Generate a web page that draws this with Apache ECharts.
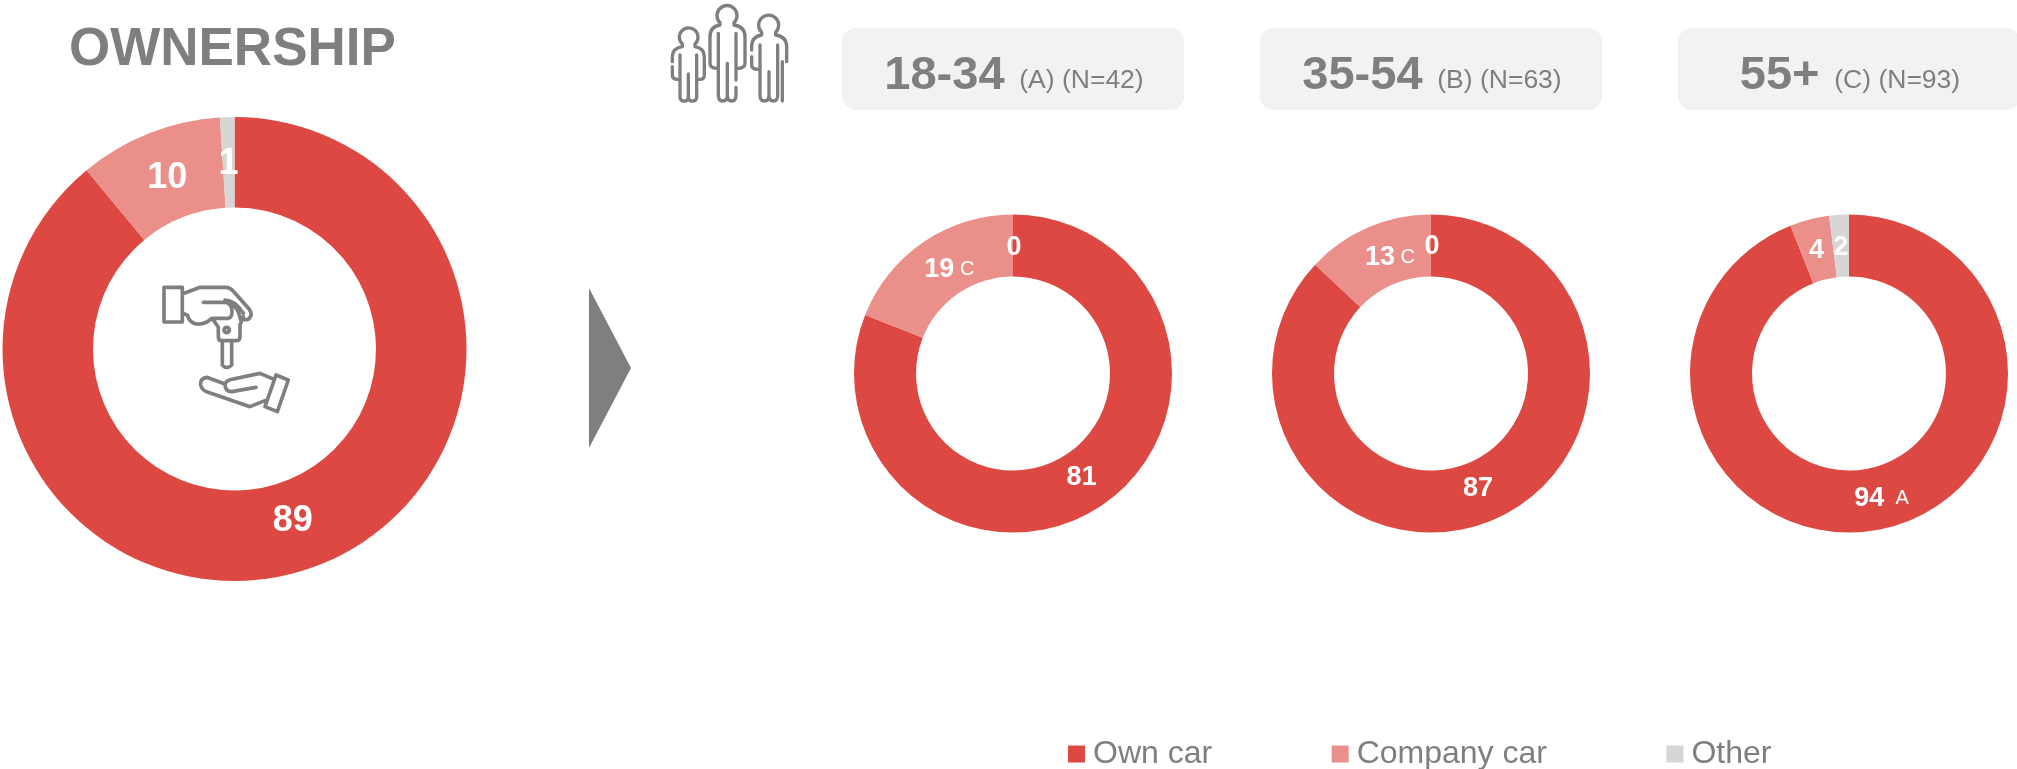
<!DOCTYPE html>
<html>
<head>
<meta charset="utf-8">
<style>
  html, body { margin: 0; padding: 0; background: #fff; }
  #chart { width: 2017px; height: 769px; }
</style>
<script src="https://cdn.jsdelivr.net/npm/echarts@6/dist/echarts.min.js"></script>
</head>
<body>
<div id="chart"></div>
<script>
    var categories = ['Own car', 'Company car', 'Other'];

    var totalValues = [89, 10, 1];
    var youngValues = [81, 19, 0];
    var middleValues = [87, 13, 0];
    var olderValues = [94, 4, 2];

    // significance letters printed after a value
    var youngLetters = ['', 'C', ''];
    var middleLetters = ['', 'C', ''];
    var olderLetters = ['A', '', ''];
    var noLetters = ['', '', ''];

    var groupNames = ['18-34', '35-54', '55+'];
    var groupNotes = ['(A) (N=42)', '(B) (N=63)', '(C) (N=93)'];

    var colors = ['#dd4942', '#eb8f8b', '#d6d6d6'];
    var grey = '#7f7f7f';
    var font = '"Liberation Sans", Arial, sans-serif';

    var keyIconPath =
        'M42,52 L97,52 L97,156 L42,156 Z' +
        'M97,72 L150,52 L228,52 Q240,52 250,64 L298,118 Q310,135 295,148 L272,150' +
        'M97,130 L112,135 Q120,165 150,162 Q170,160 185,145 L235,145 Q250,140 245,115 Q240,97 225,97 L160,97' +
        'M225,90 Q255,90 280,130 M245,100 Q265,115 272,150' +
        'M190,150 L205,172 L205,200 Q205,212 215,212 L258,212 Q270,212 270,200 L270,165 L280,140' +
        'M222,180 A8,8 0 1 1 238,180 A8,8 0 1 1 222,180' +
        'M217,212 L217,285 Q230,300 245,285 L245,212' +
        'M170,322 Q150,325 152,345 Q155,360 170,365 L300,410 L345,392' +
        'M170,322 L225,342 Q230,330 250,327 L330,310 L372,328' +
        'M225,342 Q225,365 245,365 L318,352' +
        'M378,315 L415,330 L382,425 L345,410 Z';
    var peopleIconPath =
        'M52,132 A28,28 0 1 1 90,132 L90,140 Q118,145 118,170 L118,225 Q118,238 105,238 L100,238' +
        'M52,132 L52,140 Q22,145 22,170 L22,185 M22,200 L22,225 Q22,238 38,238 L45,238' +
        'M45,165 L45,290 Q45,303 58,303 Q70,303 70,290 L70,222 M70,290 Q70,303 82,303 Q95,303 95,290 L95,165' +
        'M165,68 A30,30 0 1 1 207,68 L207,75 Q240,80 240,110 L240,190 Q240,205 220,205' +
        'M165,68 L165,75 Q135,80 135,110 L135,190 Q135,205 155,205' +
        'M160,100 L160,285 Q160,303 173,303 Q187,303 187,285 L187,190 M187,285 Q187,303 200,303 Q213,303 213,285 L213,262 M213,240 L213,100' +
        'M290,97 A30,30 0 1 1 332,97 L332,105 Q365,110 365,140 L365,185' +
        'M290,97 L290,105 Q260,110 260,140 L260,150 M260,170 L260,195 Q260,208 280,208' +
        'M285,135 L285,285 Q285,303 298,303 Q312,303 312,285 L312,215 M312,285 Q312,303 325,303 Q338,303 338,285 L338,135' +
        'M352,185 L352,303';

    echarts.graphic.registerShape('keyIcon', echarts.graphic.extendPath(keyIconPath, {}));
    echarts.graphic.registerShape('peopleIcon', echarts.graphic.extendPath(peopleIconPath, {}));

    var myChart = echarts.init(document.getElementById('chart'));

    function donut(values, letters, center, radius, sizes, nudges, letterGap) {
        return {
            type: 'pie',
            center: center,
            radius: radius,
            startAngle: 90,
            silent: true,
            avoidLabelOverlap: false,
            stillShowZeroSum: true,
            labelLine: { show: false },
            data: categories.map(function (name, i) {
                return {
                    name: name,
                    value: values[i],
                    itemStyle: { color: colors[i] },
                    label: {
                        show: true,
                        position: 'inside',
                        offset: nudges[i],
                        formatter: letters[i]
                            ? '{v|' + values[i] + '}{s|' + letterGap + letters[i] + '}'
                            : '{v|' + values[i] + '}',
                        rich: {
                            v: { color: '#fff', fontFamily: font, fontWeight: 'bold', fontSize: sizes[0] },
                            s: { color: '#fff', fontFamily: font, fontSize: sizes[1] }
                        }
                    }
                };
            })
        };
    }

    var smallRadius = [97, 159];
    var smallSizes = [27, 20];

    var graphics = [];

    // header cards
    [842, 1260, 1678].forEach(function (x, i) {
        graphics.push({
            type: 'rect',
            shape: { x: x, y: 28, width: 342, height: 82, r: 14 },
            style: { fill: '#f2f2f2' }
        });
        graphics.push({
            type: 'text',
            x: x + 172,
            y: 76,
            style: {
                text: '{a|' + groupNames[i] + '}{b|  ' + groupNotes[i] + '}',
                align: 'center',
                verticalAlign: 'middle',
                rich: {
                    a: { fontFamily: font, fontWeight: 'bold', fontSize: 47, fill: grey },
                    b: { fontFamily: font, fontSize: 26.5, fill: grey, padding: [10, 0, 0, 0] }
                }
            }
        });
    });

    // arrow between total and age groups
    graphics.push({
        type: 'polygon',
        shape: { points: [[589, 288], [631, 368], [589, 448]] },
        style: { fill: grey }
    });

    graphics.push({
        type: 'keyIcon',
        x: 150,
        y: 270,
        scaleX: 1 / 3,
        scaleY: 1 / 3,
        style: { fill: 'none', stroke: grey, lineWidth: 11, lineCap: 'round', lineJoin: 'round' }
    });

    graphics.push({
        type: 'peopleIcon',
        x: 665,
        y: 0,
        scaleX: 1 / 3,
        scaleY: 1 / 3,
        style: { fill: 'none', stroke: grey, lineWidth: 10, lineCap: 'round', lineJoin: 'round' }
    });

    var option = {
        animation: false,
        backgroundColor: '#fff',
        title: {
            text: 'OWNERSHIP',
            left: 64,
            top: 19,
            textStyle: { fontFamily: font, fontWeight: 'bold', fontSize: 53, color: grey }
        },
        legend: {
            left: 1068,
            top: 738,
            padding: 0,
            itemWidth: 17,
            itemHeight: 17,
            itemGap: 119.5,
            icon: 'rect',
            data: categories,
            selectedMode: false,
            textStyle: { fontFamily: font, fontSize: 32, color: grey, padding: [0, 0, 0, 3] }
        },
        graphic: graphics,
        series: [
            donut(totalValues, noLetters, [234.5, 349], [141.5, 232], [36, 20], [[-6, -6], [2.5, 6], [0, 5]], ''),
            donut(youngValues, youngLetters, [1013, 373.5], smallRadius, smallSizes, [[-5, -4], [10, 4], [1, 5]], ' '),
            donut(middleValues, middleLetters, [1431, 373.5], smallRadius, smallSizes, [[-5, -5], [11, 4], [1, 4]], ' '),
            donut(olderValues, olderLetters, [1849, 373.5], smallRadius, smallSizes, [[8, -4], [0, 4], [0, 5]], '  ')
        ]
    };

    myChart.setOption(option);
</script>
</body>
</html>
